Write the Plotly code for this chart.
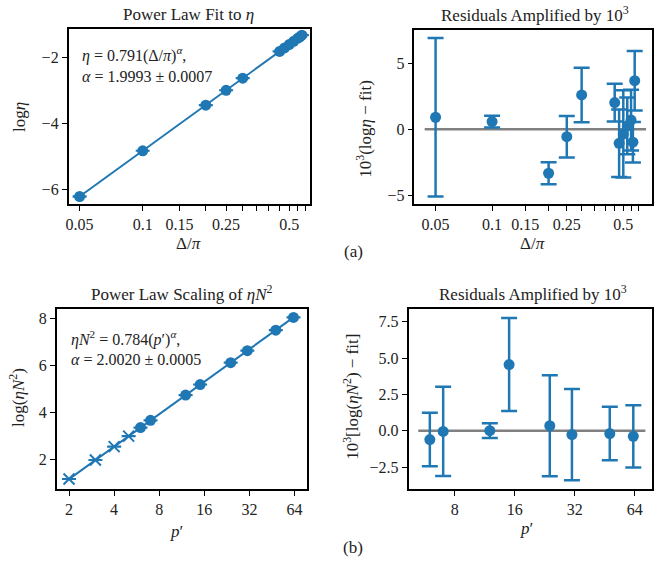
import numpy as np
import plotly.graph_objects as go

C0 = "#1f77b4"
FONT = "Liberation Serif"

# (a) eta against Delta/pi
delta = [0.05, 0.1, 0.2, 0.25, 0.3, 0.45, 0.475, 0.5, 0.525, 0.55, 0.5625, 0.575]
log_eta = [-6.223, -4.838, -3.456, -3.007, -2.639, -1.829, -1.724, -1.620,
           -1.523, -1.429, -1.386, -1.337]
resid_a = [0.91, 0.58, -3.33, -0.56, 2.60, 2.02, -1.06, -0.35, 0.25, 0.70, -0.98, 3.68]
err_a = [6.0, 0.45, 0.83, 1.57, 2.06, 1.43, 2.56, 3.3, 2.15, 2.3, 1.53, 2.25]
fit_a = (0.791, 1.9993)

# (b) eta*N^2 against p'
p_cross = [2, 3, 4, 5]
log_cross = [1.144, 1.956, 2.532, 2.979]
err_cross = [0.002, 0.002, 0.002, 0.002]
p_dot = [6, 7, 12, 15, 24, 31, 48, 63]
log_dot = [3.343, 3.652, 4.731, 5.183, 6.119, 6.631, 7.507, 8.051]
resid_b = [-0.61, -0.05, 0.0, 4.55, 0.34, -0.27, -0.20, -0.39]
err_b = [1.84, 3.07, 0.51, 3.20, 3.47, 3.14, 1.84, 2.14]
fit_b = (0.784, 2.0020)

a_ticks = [0.05, 0.1, 0.15, 0.25, 0.5]
a_labels = ["0.05", "0.1", "0.15", "0.25", "0.5"]
a_minor = [0.2, 0.3, 0.35, 0.4, 0.45, 0.55, 0.6]

W, H = 654, 562


def px(x):
    return x / W


def py(y):
    return 1 - y / H


fig = go.Figure()

# top left: data + fit
xa = np.geomspace(min(delta), max(delta), 50)
fig.add_trace(go.Scatter(x=xa, y=np.log(fit_a[0]) + fit_a[1] * np.log(xa), mode="lines",
                         line=dict(color=C0, width=2), xaxis="x", yaxis="y"))
fig.add_trace(go.Scatter(x=delta, y=log_eta, mode="markers",
                         marker=dict(color=C0, size=11),
                         error_y=dict(type="data", array=[e * 1e-3 for e in err_a],
                                      color=C0, thickness=2, width=7),
                         xaxis="x", yaxis="y"))

# top right: residuals
fig.add_trace(go.Scatter(x=[min(delta) * 0.875, max(delta) * 1.15], y=[0, 0], mode="lines",
                         line=dict(color="#808080", width=2.5), xaxis="x2", yaxis="y2"))
fig.add_trace(go.Scatter(x=delta, y=resid_a, mode="markers",
                         marker=dict(color=C0, size=11),
                         error_y=dict(type="data", array=err_a, color=C0, thickness=2.5, width=8),
                         xaxis="x2", yaxis="y2"))

# bottom left: data + fit
xb = np.geomspace(min(p_cross), max(p_dot), 50)
fig.add_trace(go.Scatter(x=xb, y=np.log(fit_b[0]) + fit_b[1] * np.log(xb), mode="lines",
                         line=dict(color=C0, width=2), xaxis="x3", yaxis="y3"))
fig.add_trace(go.Scatter(x=p_cross, y=log_cross, mode="markers",
                         marker=dict(color=C0, size=11, symbol="x-thin", line=dict(color=C0, width=2)),
                         error_y=dict(type="data", array=err_cross, color=C0, thickness=2, width=7),
                         xaxis="x3", yaxis="y3"))
fig.add_trace(go.Scatter(x=p_dot, y=log_dot, mode="markers",
                         marker=dict(color=C0, size=11),
                         error_y=dict(type="data", array=[e * 1e-3 for e in err_b],
                                      color=C0, thickness=2, width=7),
                         xaxis="x3", yaxis="y3"))

# bottom right: residuals
fig.add_trace(go.Scatter(x=[min(p_dot) * 0.875, max(p_dot) * 1.15], y=[0, 0], mode="lines",
                         line=dict(color="#808080", width=2.5), xaxis="x4", yaxis="y4"))
fig.add_trace(go.Scatter(x=p_dot, y=resid_b, mode="markers",
                         marker=dict(color=C0, size=11),
                         error_y=dict(type="data", array=err_b, color=C0, thickness=2.5, width=8),
                         xaxis="x4", yaxis="y4"))

axis_style = dict(showline=True, linecolor="black", linewidth=1.5, mirror=True,
                  ticks="outside", ticklen=5, tickwidth=1.2, tickcolor="black",
                  showgrid=False, zeroline=False,
                  tickfont=dict(family=FONT, size=16, color="#222"))
minor_a = dict(tickvals=a_minor, ticks="outside", ticklen=5, tickwidth=1.2,
               tickcolor="black", showgrid=False)

fig.update_layout(
    width=W, height=H, margin=dict(l=0, r=0, t=0, b=0),
    plot_bgcolor="white", paper_bgcolor="white", showlegend=False,
    xaxis=dict(axis_style, type="log", domain=[px(66), px(309)], anchor="y",
               range=[np.log10(0.0443), np.log10(0.629)], tickvals=a_ticks, ticktext=a_labels,
               minor=minor_a),
    yaxis=dict(axis_style, domain=[py(204), py(29)], anchor="x", range=[-6.45, -1.15],
               tickvals=[-6, -4, -2], ticktext=["−6", "−4", "−2"]),
    xaxis2=dict(axis_style, type="log", domain=[px(414), px(653)], anchor="y2",
                range=[np.log10(0.0386), np.log10(0.711)], tickvals=a_ticks, ticktext=a_labels,
                minor=minor_a),
    yaxis2=dict(axis_style, domain=[py(204), py(30)], anchor="x2", range=[-5.66, 7.52],
                tickvals=[-5, 0, 5], ticktext=["−5", "0", "5"]),
    xaxis3=dict(axis_style, type="log", domain=[px(54), px(306)], anchor="y3",
                range=[np.log10(1.654), np.log10(77.7)],
                tickvals=[2, 4, 8, 16, 32, 64], ticktext=["2", "4", "8", "16", "32", "64"]),
    yaxis3=dict(axis_style, domain=[py(489), py(309)], anchor="x3", range=[0.72, 8.41],
                tickvals=[2, 4, 6, 8], ticktext=["2", "4", "6", "8"]),
    xaxis4=dict(axis_style, type="log", domain=[px(408), px(653)], anchor="y4",
                range=[np.log10(4.69), np.log10(78.2)],
                tickvals=[8, 16, 32, 64], ticktext=["8", "16", "32", "64"]),
    yaxis4=dict(axis_style, domain=[py(489), py(309)], anchor="x4", range=[-4.01, 8.37],
                tickvals=[-2.5, 0, 2.5, 5, 7.5], ticktext=["−2.5", "0.0", "2.5", "5.0", "7.5"]),
)


def label(text, x, y, size=17, angle=0, xanchor="center"):
    fig.add_annotation(text=text, x=px(x), y=py(y), xref="paper", yref="paper",
                       showarrow=False, textangle=angle, xanchor=xanchor, yanchor="middle",
                       borderpad=0, font=dict(family=FONT, size=size, color="#222"))


# titles
label("Power Law Fit to <i>η</i>", 187, 15)
label("Residuals Amplified by 10<sup>3</sup>", 535, 14)
label("Power Law Scaling of <i>ηN</i><sup>2</sup>", 180, 293)
label("Residuals Amplified by 10<sup>3</sup>", 533, 293)

# axis labels
label("Δ/<i>π</i>", 187, 243)
label("Δ/<i>π</i>", 533, 243)
label("<i>p</i>′", 175, 531)
label("<i>p</i>′", 527, 528)
label("log<i>η</i>", 16, 117, angle=-90)
label("10<sup>3</sup>(log<i>η</i> − fit)", 363, 129, angle=-90)
label("log(<i>ηN</i><sup>2</sup>)", 14, 397, angle=-90)
label("10<sup>3</sup>[log(<i>ηN</i><sup>2</sup>) − fit]", 350, 397, angle=-90)

# fit annotations
label("<i>η</i> = 0.791(Δ/<i>π</i>)<sup><i>α</i></sup>,", 78, 55, size=16, xanchor="left")
label("<i>α</i> = 1.9993 ± 0.0007", 78, 76, size=16, xanchor="left")
label("<i>ηN</i><sup>2</sup> = 0.784(<i>p</i>′)<sup><i>α</i></sup>,", 67, 338, size=16, xanchor="left")
label("<i>α</i> = 2.0020 ± 0.0005", 67, 359, size=16, xanchor="left")

# panel tags
label("(a)", 353, 251, size=17)
label("(b)", 352, 547, size=17)

fig.write_html("out.html", config={"displayModeBar": False},
               post_script="document.body.style.margin='0';document.body.style.overflow='hidden';")
